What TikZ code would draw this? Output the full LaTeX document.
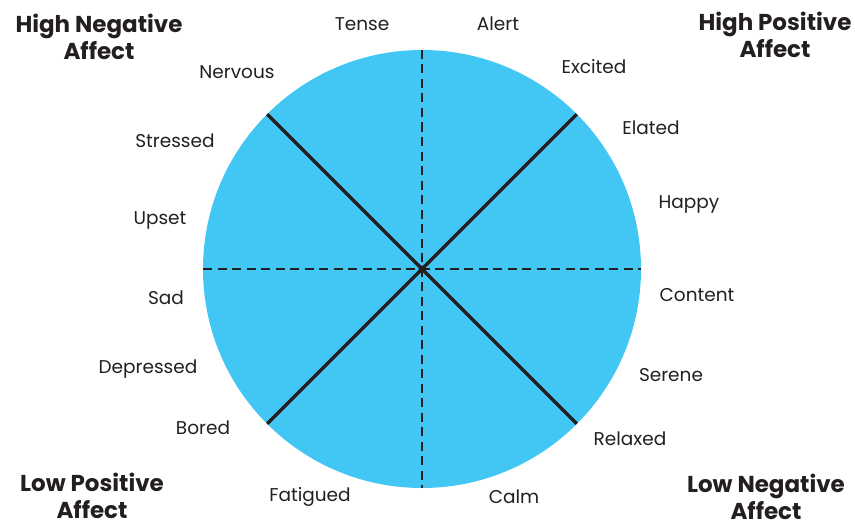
\documentclass[tikz,border=0pt]{standalone}
\usepackage{fontspec}
\setmainfont{Poppins}
\usepackage{xcolor}
\usepackage{tikz}
\usetikzlibrary{positioning,calc}
\definecolor{wheelblue}{RGB}{66,198,243}
\definecolor{inkline}{RGB}{35,31,32}
\tikzstyle{mood}   = [font=\fontsize{18.5}{22}\selectfont, text=inkline, inner sep=0pt]
\tikzstyle{corner} = [font=\fontsize{23}{27.5}\selectfont\bfseries, text=inkline,
                      align=center, inner sep=0pt]
\tikzstyle{axis}   = [inkline, line width=2.8pt, dash pattern=on 9pt off 5.5pt]
\tikzstyle{split}  = [inkline, line width=3.2pt]

\begin{document}
\begin{tikzpicture}[x=1pt,y=-1pt]
\useasboundingbox (0,0) rectangle (855,527);
% Wheel
\coordinate (c) at (422,269);
\fill[wheelblue] (c) circle (219);
\coordinate (n) at ($(c)+(0,-219)$);
\coordinate (s) at ($(c)+(0,219)$);
\coordinate (w) at ($(c)+(-219,0)$);
\coordinate (e) at ($(c)+(219,0)$);
\coordinate (nw) at ($(c)+(135:219)$);
\coordinate (se) at ($(c)+(-45:219)$);
\coordinate (ne) at ($(c)+(45:219)$);
\coordinate (sw) at ($(c)+(-135:219)$);
\draw[axis] (n) -- (s);
\draw[axis] (w) -- (e);
\draw[split] (nw) -- (se);
\draw[split] (ne) -- (sw);
\fill[inkline] (c) circle (3.5);
% Moods
\node[mood] (tense)  at (362,24)  {Tense};
\node[mood] (alert)  at (498,24)  {Alert};
\node[mood] (nerv)   at (237,72)  {Nervous};
\node[mood] (exc)    at (594,67)  {Excited};
\node[mood] (stress) at (175,141) {Stressed};
\node[mood] (elated) at (651,128) {Elated};
\node[mood] (upset)  at (160,220) {Upset};
\node[mood] (happy)  at (689,204) {Happy};
\node[mood] (sad)    at (166,298) {Sad};
\node[mood] (cont)   at (697,295) {Content};
\node[mood] (depr)   at (148,369) {Depressed};
\node[mood] (serene) at (671,375) {Serene};
\node[mood] (bored)  at (203,428) {Bored};
\node[mood] (relax)  at (630,439) {Relaxed};
\node[mood] (fatig)  at (310,497) {Fatigued};
\node[mood] (calm)   at (514,497) {Calm};
% Quadrants
\node[corner] (hineg) at (99,37)   {High Negative\\Affect};
\node[corner] (hipos) at (775,35)  {High Positive\\Affect};
\node[corner] (lopos) at (92,496)  {Low Positive\\Affect};
\node[corner] (loneg) at (766,497) {Low Negative\\Affect};
\end{tikzpicture}
\end{document}
